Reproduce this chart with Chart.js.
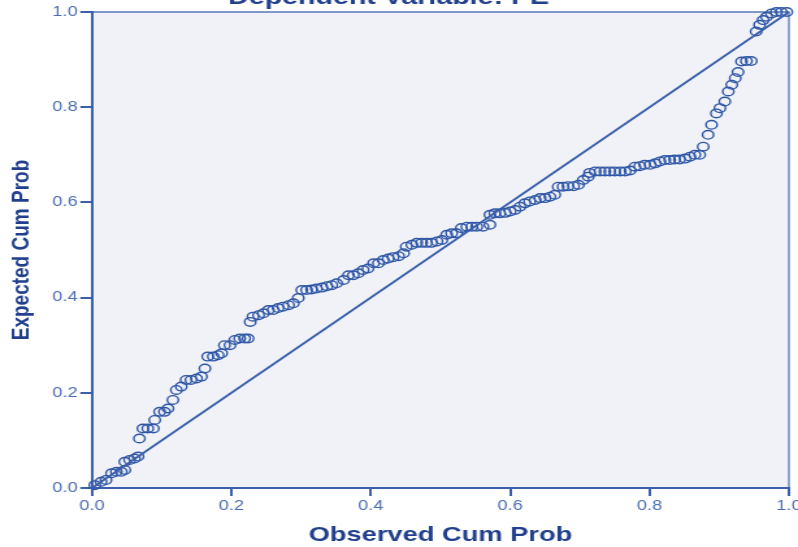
<!DOCTYPE html>
<html>
<head>
<meta charset="utf-8">
<script src="https://cdn.jsdelivr.net/npm/chart.js@4.4.0/dist/chart.umd.min.js"></script>
<style>
  html, body { margin: 0; padding: 0; background: #ffffff; }
</style>
</head>
<body>
<!-- drawn narrow and stretched to the window width, the way the original picture was -->
<canvas id="pp" width="614" height="547" style="width:798px;height:547px;display:block"></canvas>
<script>
// P-P plot values
const observedCumProb = [
  0.004, 0.013, 0.020, 0.028, 0.035, 0.042, 0.047, 0.047, 0.054, 0.061,
  0.066, 0.068, 0.073, 0.080, 0.088, 0.090, 0.097, 0.104, 0.109, 0.116,
  0.121, 0.128, 0.135, 0.142, 0.150, 0.157, 0.162, 0.166, 0.174, 0.181,
  0.186, 0.190, 0.198, 0.205, 0.212, 0.219, 0.224, 0.227, 0.231, 0.239,
  0.246, 0.253, 0.260, 0.267, 0.274, 0.282, 0.289, 0.296, 0.301, 0.308,
  0.315, 0.322, 0.330, 0.337, 0.344, 0.351, 0.361, 0.368, 0.375, 0.382,
  0.389, 0.396, 0.404, 0.411, 0.418, 0.425, 0.432, 0.440, 0.447, 0.451,
  0.459, 0.466, 0.473, 0.480, 0.487, 0.495, 0.502, 0.509, 0.516, 0.523,
  0.530, 0.538, 0.545, 0.552, 0.561, 0.571, 0.571, 0.578, 0.585, 0.593,
  0.600, 0.607, 0.614, 0.621, 0.628, 0.636, 0.643, 0.650, 0.657, 0.664,
  0.669, 0.676, 0.683, 0.691, 0.698, 0.705, 0.712, 0.714, 0.722, 0.729,
  0.736, 0.743, 0.750, 0.758, 0.765, 0.772, 0.779, 0.786, 0.793, 0.801,
  0.808, 0.815, 0.822, 0.829, 0.836, 0.843, 0.851, 0.858, 0.865, 0.872,
  0.877, 0.884, 0.889, 0.896, 0.901, 0.908, 0.913, 0.918, 0.923, 0.927,
  0.932, 0.939, 0.946, 0.953, 0.958, 0.963, 0.968, 0.975, 0.982, 0.989,
  0.997
];
const expectedCumProb = [
  0.006, 0.013, 0.017, 0.031, 0.034, 0.034, 0.038, 0.055, 0.059, 0.062,
  0.066, 0.104, 0.125, 0.125, 0.125, 0.143, 0.160, 0.160, 0.167, 0.185,
  0.206, 0.213, 0.227, 0.227, 0.230, 0.234, 0.251, 0.276, 0.276, 0.279,
  0.283, 0.300, 0.300, 0.311, 0.314, 0.314, 0.314, 0.349, 0.360, 0.363,
  0.367, 0.374, 0.374, 0.378, 0.381, 0.384, 0.388, 0.399, 0.416, 0.416,
  0.417, 0.419, 0.421, 0.424, 0.426, 0.430, 0.437, 0.447, 0.447, 0.451,
  0.458, 0.461, 0.472, 0.472, 0.479, 0.482, 0.485, 0.487, 0.493, 0.507,
  0.511, 0.515, 0.515, 0.515, 0.515, 0.518, 0.521, 0.532, 0.535, 0.535,
  0.546, 0.549, 0.549, 0.549, 0.549, 0.553, 0.574, 0.577, 0.577, 0.578,
  0.581, 0.584, 0.591, 0.598, 0.602, 0.605, 0.609, 0.609, 0.612, 0.616,
  0.633, 0.633, 0.634, 0.634, 0.637, 0.647, 0.654, 0.662, 0.665, 0.665,
  0.665, 0.665, 0.665, 0.665, 0.665, 0.667, 0.675, 0.676, 0.679, 0.679,
  0.682, 0.686, 0.689, 0.689, 0.690, 0.690, 0.692, 0.696, 0.700, 0.700,
  0.717, 0.742, 0.763, 0.787, 0.798, 0.812, 0.833, 0.847, 0.861, 0.874,
  0.896, 0.897, 0.897, 0.959, 0.973, 0.983, 0.990, 0.997, 1.000, 1.000,
  1.000
];
// the diagonal reference line
const refLineX = [0, 1];
const refLineY = [0, 1];

const titleText = "Dependent Variable: PE";
const xTitle = "Observed Cum Prob";
const yTitle = "Expected Cum Prob";

const blue = "#3a5fab";
const navy = "#213f8c";

const plotFrame = {
  id: "plotFrame",
  beforeDraw(chart) {
    const { ctx, chartArea: a } = chart;
    ctx.save();
    ctx.fillStyle = "#f1f2f8";
    ctx.fillRect(a.left, a.top, a.right - a.left, a.bottom - a.top);
    ctx.strokeStyle = "#5877b9";
    ctx.lineWidth = 1.3;
    ctx.beginPath();
    ctx.moveTo(a.left, a.top);
    ctx.lineTo(a.right, a.top);
    ctx.lineTo(a.right, a.bottom);
    ctx.stroke();
    ctx.restore();
  },
  afterDraw(chart) {
    // chart title, mostly cut off by the top edge
    const { ctx } = chart;
    ctx.save();
    ctx.font = 'bold 22px "Liberation Sans", Arial, sans-serif';
    ctx.fillStyle = navy;
    ctx.textAlign = "center";
    ctx.textBaseline = "alphabetic";
    ctx.fillText(titleText, 299, 4);
    ctx.restore();
  }
};

const points = observedCumProb.map((x, i) => ({ x: x, y: expectedCumProb[i] }));
const diag = refLineX.map((x, i) => ({ x: x, y: refLineY[i] }));

new Chart(document.getElementById("pp"), {
  type: "scatter",
  data: {
    datasets: [
      {
        type: "line",
        data: diag,
        borderColor: blue,
        borderWidth: 1.8,
        pointRadius: 0,
        fill: false,
        clip: false
      },
      {
        data: points,
        showLine: false,
        pointRadius: 4.3,
        pointBorderWidth: 1.4,
        pointBorderColor: "#2f57a6",
        pointBackgroundColor: "rgba(0,0,0,0)",
        clip: false
      }
    ]
  },
  options: {
    responsive: false,
    devicePixelRatio: 1,
    animation: false,
    layout: { padding: { top: 12, right: 7, left: 0, bottom: 0 } },
    plugins: {
      legend: { display: false },
      tooltip: { enabled: false }
    },
    scales: {
      x: {
        type: "linear",
        min: 0,
        max: 1,
        border: { color: blue, width: 2 },
        grid: { drawOnChartArea: false, tickLength: 8, tickColor: blue, lineWidth: 2 },
        ticks: {
          stepSize: 0.2,
          padding: 2,
          color: "#4a6cb2",
          font: { family: '"Liberation Sans", Arial, sans-serif', size: 14 },
          maxRotation: 0,
          callback: (v) => v.toFixed(1)
        },
        title: {
          display: true,
          text: xTitle,
          color: navy,
          font: { family: '"Liberation Sans", Arial, sans-serif', size: 21, weight: "bold", lineHeight: 1 },
          padding: { top: 0, bottom: 1.5 }
        },
        afterFit(scale) {
          scale.height = 59;
          scale.paddingLeft = 0;
          scale.paddingRight = 0;
        }
      },
      y: {
        type: "linear",
        min: 0,
        max: 1,
        border: { color: blue, width: 2 },
        grid: { drawOnChartArea: false, tickLength: 9, tickColor: blue, lineWidth: 2 },
        ticks: {
          stepSize: 0.2,
          padding: 2,
          color: "#4a6cb2",
          font: { family: '"Liberation Sans", Arial, sans-serif', size: 14 },
          callback: (v) => v.toFixed(1)
        },
        title: {
          display: true,
          text: yTitle,
          color: navy,
          font: { family: '"Liberation Sans", Arial, sans-serif', size: 19, weight: "bold" },
          padding: { top: 5, bottom: 0 }
        },
        afterFit(scale) {
          scale.width = 70.8;
        }
      }
    }
  },
  plugins: [plotFrame]
});
</script>
</body>
</html>
